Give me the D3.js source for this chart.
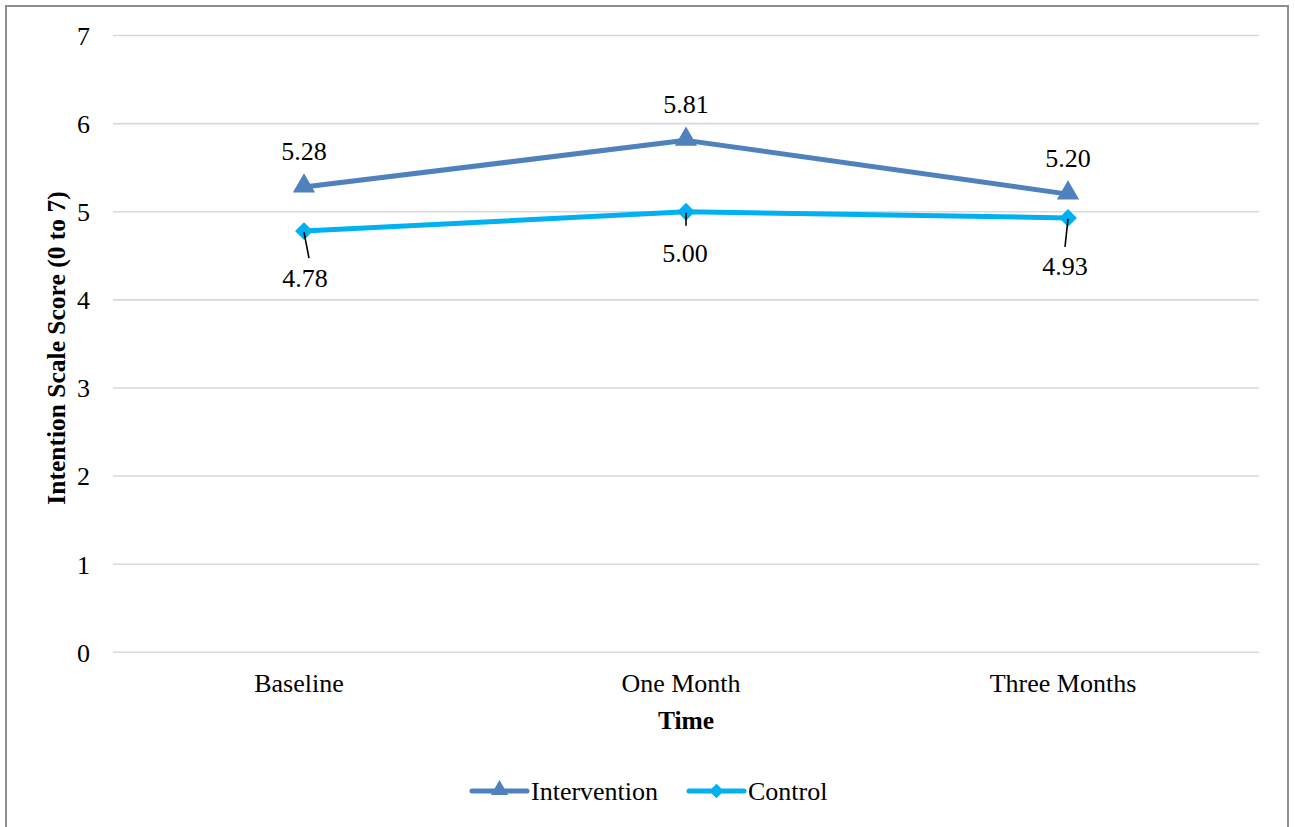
<!DOCTYPE html>
<html>
<head>
<meta charset="utf-8">
<script src="https://cdn.jsdelivr.net/npm/d3@7"></script>
<style>
  html, body { margin: 0; padding: 0; background: #fff; }
  svg text { font-family: "Liberation Serif", "Times New Roman", Times, serif !important; fill: #000; }
</style>
</head>
<body>
<svg id="chart" width="1295" height="827"></svg>
<script>
// ---- data ----
const categories = ["Baseline", "One Month", "Three Months"];
const interventionValues = [5.28, 5.81, 5.20];
const controlValues = [4.78, 5.00, 4.93];
const seriesNames = ["Intervention", "Control"];
const yTicks = [0, 1, 2, 3, 4, 5, 6, 7];
const yTitle = "Intention Scale Score (0 to 7)";
const xTitle = "Time";

// ---- layout ----
const plot = { left: 113, right: 1259, top: 35.5, bottom: 652.3 };
const colors = { Intervention: "#4f81bd", Control: "#00b0f0" };
// control label placement (leader lines), per point
const controlLabelLayout = [
  { dx: 1, dy: 56, l1: [0, 1], l2: [5, 27] },
  { dx: -1, dy: 50, l1: [0, 1], l2: [0, 14] },
  { dx: -3, dy: 57, l1: [0, 1], l2: [-3, 29] }
];

const svg = d3.select("#chart");

// frame
svg.append("rect")
  .attr("x", 6).attr("y", 6).attr("width", 1282).attr("height", 840)
  .attr("fill", "none").attr("stroke", "#8e8e8e").attr("stroke-width", 2);

const x = d3.scaleBand().domain(categories).range([plot.left, plot.right]);
const y = d3.scaleLinear().domain([0, 7]).range([plot.bottom, plot.top]);
const cx = c => x(c) + x.bandwidth() / 2;

// gridlines
svg.append("g").selectAll("line").data(yTicks).join("line")
  .attr("x1", plot.left).attr("x2", plot.right)
  .attr("y1", d => y(d)).attr("y2", d => y(d))
  .attr("stroke", "#d9d9d9").attr("stroke-width", 1.6);

// y axis
const yAxis = svg.append("g")
  .attr("transform", `translate(${plot.left},0)`)
  .call(d3.axisLeft(y).tickValues(yTicks).tickSize(0).tickPadding(23).tickFormat(d3.format("d")));
yAxis.select(".domain").remove();
yAxis.attr("font-family", null).attr("font-size", null);
yAxis.selectAll("text").attr("font-size", 26).attr("dy", "0.34em");

// x axis
const xAxis = svg.append("g")
  .attr("transform", `translate(0,${plot.bottom})`)
  .call(d3.axisBottom(x).tickSize(0).tickPadding(0));
xAxis.select(".domain").remove();
xAxis.attr("font-family", null).attr("font-size", null);
xAxis.selectAll("text").attr("font-size", 26).attr("x", -5).attr("y", 40).attr("dy", 0);

// axis titles
svg.append("text")
  .attr("transform", `translate(65,348) rotate(-90)`)
  .attr("text-anchor", "middle")
  .attr("font-size", 25.5).attr("font-weight", "bold")
  .text(yTitle);
svg.append("text")
  .attr("x", 686).attr("y", 729)
  .attr("text-anchor", "middle")
  .attr("font-size", 25.5).attr("font-weight", "bold")
  .text(xTitle);

const line = d3.line().x((d, i) => cx(categories[i])).y(d => y(d));

const triangle = d3.symbol().type(d3.symbolTriangle).size(215);
const diamond = d3.symbol().type(d3.symbolSquare).size(160);

// series lines
svg.append("path").datum(controlValues)
  .attr("d", line).attr("fill", "none")
  .attr("stroke", colors.Control).attr("stroke-width", 5)
  .attr("stroke-linejoin", "round").attr("stroke-linecap", "round");
svg.append("path").datum(interventionValues)
  .attr("d", line).attr("fill", "none")
  .attr("stroke", colors.Intervention).attr("stroke-width", 5)
  .attr("stroke-linejoin", "round").attr("stroke-linecap", "round");

// markers
svg.append("g").selectAll("path").data(controlValues).join("path")
  .attr("transform", (d, i) => `translate(${cx(categories[i])},${y(d)}) rotate(45)`)
  .attr("d", diamond).attr("fill", colors.Control);
svg.append("g").selectAll("path").data(interventionValues).join("path")
  .attr("transform", (d, i) => `translate(${cx(categories[i])},${y(d) - 1})`)
  .attr("d", triangle).attr("fill", colors.Intervention);

// intervention labels (above)
svg.append("g").selectAll("text").data(interventionValues).join("text")
  .attr("x", (d, i) => cx(categories[i]))
  .attr("y", d => y(d) - 27)
  .attr("text-anchor", "middle").attr("font-size", 26)
  .text(d => d.toFixed(2));

// control labels (below with leader lines)
svg.append("g").selectAll("line").data(controlValues).join("line")
  .attr("x1", (d, i) => cx(categories[i]) + controlLabelLayout[i].l1[0])
  .attr("y1", (d, i) => y(d) + controlLabelLayout[i].l1[1])
  .attr("x2", (d, i) => cx(categories[i]) + controlLabelLayout[i].l2[0])
  .attr("y2", (d, i) => y(d) + controlLabelLayout[i].l2[1])
  .attr("stroke", "#000").attr("stroke-width", 1.6);
svg.append("g").selectAll("text").data(controlValues).join("text")
  .attr("x", (d, i) => cx(categories[i]) + controlLabelLayout[i].dx)
  .attr("y", (d, i) => y(d) + controlLabelLayout[i].dy)
  .attr("text-anchor", "middle").attr("font-size", 26)
  .text(d => d.toFixed(2));

// legend
const legendItems = [
  { name: seriesNames[0], x0: 472, sym: d3.symbol().type(d3.symbolTriangle).size(130), rot: 0, symDy: -1 },
  { name: seriesNames[1], x0: 689, sym: d3.symbol().type(d3.symbolSquare).size(105), rot: 45, symDy: 0 }
];
const lg = svg.append("g").selectAll("g").data(legendItems).join("g")
  .attr("transform", d => `translate(${d.x0},791)`);
lg.append("line").attr("x1", 0).attr("x2", 55).attr("y1", 0).attr("y2", 0)
  .attr("stroke", d => colors[d.name]).attr("stroke-width", 5).attr("stroke-linecap", "round");
lg.append("path").attr("transform", d => `translate(27.5,${d.symDy}) rotate(${d.rot})`)
  .attr("d", d => d.sym())
  .attr("fill", d => colors[d.name]);
lg.append("text").attr("x", 59).attr("y", 8.5)
  .attr("font-size", 26).text(d => d.name);
</script>
</body>
</html>
